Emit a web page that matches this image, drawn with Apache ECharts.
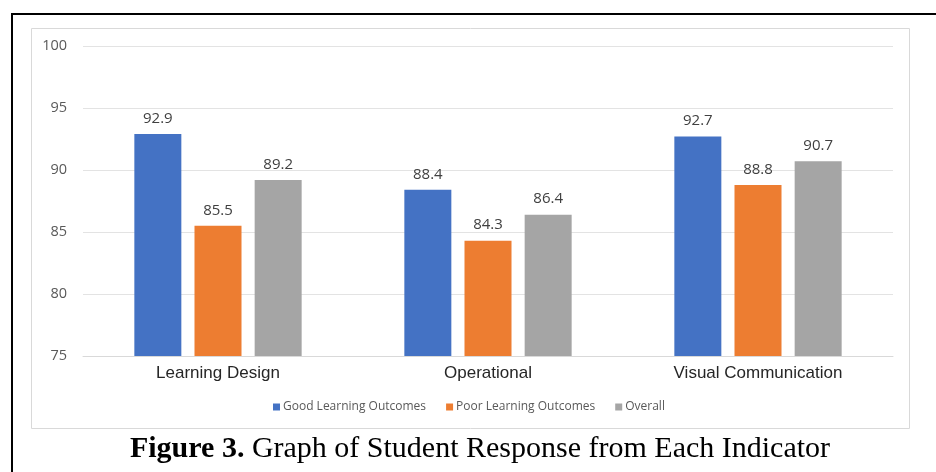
<!DOCTYPE html>
<html><head><meta charset="utf-8">
<script src="https://cdn.jsdelivr.net/npm/echarts@6/dist/echarts.min.js"></script>
<style>html,body{margin:0;padding:0;background:#fff}#c{width:936px;height:472px}</style>
</head><body><div id="c"></div>
<script>
const categories = ['Learning Design', 'Operational', 'Visual Communication'];
const goodOutcomes = [92.9, 88.4, 92.7];
const poorOutcomes = [85.5, 84.3, 88.8];
const overall = [89.2, 86.4, 90.7];
const seriesNames = ['Good Learning Outcomes', 'Poor Learning Outcomes', 'Overall'];
const yTicks = [75, 80, 85, 90, 95, 100];

const chart = echarts.init(document.getElementById('c'));
const labelCfg = { show: true, position: 'top', distance: 8, color: '#404040', fontSize: 15, fontFamily: 'Open Sans, sans-serif' };
function mk(name, data, color) {
  return { name, type: 'bar', data, barWidth: 47, barGap: '28%', itemStyle: { color }, label: labelCfg };
}
chart.setOption({
  animation: false,
  grid: { left: 83, right: 43, top: 46, bottom: 116 },
  xAxis: {
    type: 'category', data: categories,
    axisLine: { lineStyle: { color: '#d9d9d9' } }, axisTick: { show: false },
    axisLabel: { color: '#262626', fontSize: 17, fontFamily: 'Liberation Sans, Arial', margin: 9 }
  },
  yAxis: {
    type: 'value', min: yTicks[0], max: yTicks[yTicks.length - 1], interval: 5,
    axisLine: { show: false }, axisTick: { show: false },
    splitLine: { lineStyle: { color: '#e3e3e3' } },
    axisLabel: { color: '#595959', fontSize: 14.5, fontFamily: 'Open Sans, sans-serif', margin: 16 }
  },
  legend: {
    left: 268, top: 396, itemWidth: 7, itemHeight: 7, itemGap: 20, icon: 'rect',
    textStyle: { color: '#595959', fontSize: 12, fontFamily: 'Open Sans, sans-serif', padding: [0, 0, 0, -2] }
  },
  title: {
    text: '{b|Figure 3.} Graph of Student Response from Each Indicator',
    left: 475, textAlign: 'center', top: 429,
    textStyle: {
      fontFamily: 'Liberation Serif, Times New Roman, serif', fontSize: 30, fontWeight: 'normal', color: '#000',
      rich: { b: { fontFamily: 'Liberation Serif, Times New Roman, serif', fontSize: 30, fontWeight: 'bold', color: '#000' } }
    }
  },
  graphic: [
    { type: 'rect', shape: { x: 12, y: 14, width: 1000, height: 1000 }, style: { fill: 'none', stroke: '#000', lineWidth: 2 }, silent: true },
    { type: 'rect', shape: { x: 31.5, y: 28.5, width: 878, height: 400 }, style: { fill: 'none', stroke: '#d9d9d9', lineWidth: 1 }, silent: true }
  ],
  series: [
    mk(seriesNames[0], goodOutcomes, '#4472C4'),
    mk(seriesNames[1], poorOutcomes, '#ED7D31'),
    mk(seriesNames[2], overall, '#A5A5A5')
  ]
});
</script></body></html>
